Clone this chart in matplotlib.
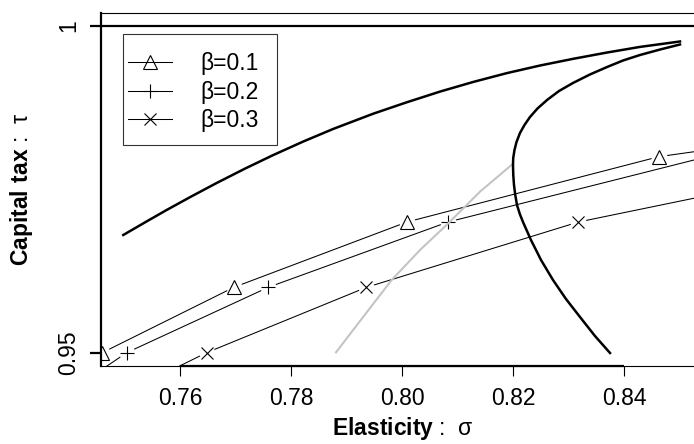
import matplotlib
matplotlib.use('Agg')
import matplotlib.pyplot as plt
from matplotlib.lines import Line2D
from matplotlib.patches import Rectangle

plt.rcParams['font.family'] = ['Liberation Sans', 'DejaVu Sans']
plt.rcParams['mathtext.fontset'] = 'custom'
plt.rcParams['mathtext.rm'] = 'Liberation Sans'
plt.rcParams['mathtext.bf'] = 'Liberation Sans:bold'

# capital tax levels where the beta curves are evaluated
tau_levels = [0.94, 0.95, 0.96, 0.97, 0.98, 0.99]
sigma_b01 = [0.728, 0.7460, 0.7697, 0.8009, 0.8463, 0.930]
sigma_b02 = [0.733, 0.7504, 0.7759, 0.8083, 0.8550, 0.940]
sigma_b03 = [0.741, 0.7648, 0.7936, 0.8318, 0.8890, 0.970]
beta_labels = ['β=0.1', 'β=0.2', 'β=0.3']

# upper thick curve
sigma_a = [0.74978, 0.75369, 0.75760, 0.76211, 0.76661, 0.77171, 0.77681, 0.78222, 0.78762, 0.79483,
           0.80085, 0.80685, 0.81285, 0.81886, 0.82486, 0.83086, 0.83688, 0.84288, 0.85009]
tau_a = [0.96801, 0.96994, 0.97184, 0.97394, 0.97597, 0.97817, 0.98025, 0.98232, 0.98425, 0.98658,
         0.98832, 0.98996, 0.99144, 0.99278, 0.99395, 0.99498, 0.99593, 0.99680, 0.99763]

# backward bending thick curve
sigma_b = [0.85009, 0.84649, 0.84288, 0.83982, 0.83694, 0.83387, 0.83081, 0.82829, 0.82613, 0.82441,
           0.82306, 0.82207, 0.82126, 0.82063, 0.82027, 0.82004, 0.82000, 0.82005, 0.82018, 0.82041,
           0.82072, 0.82123, 0.82180, 0.82252, 0.82324, 0.82505, 0.82721, 0.82955, 0.83207, 0.83477,
           0.83748]
tau_b = [0.99717, 0.99640, 0.99556, 0.99472, 0.99372, 0.99258, 0.99128, 0.99005, 0.98867, 0.98737,
         0.98607, 0.98485, 0.98362, 0.98224, 0.98102, 0.97979, 0.97872, 0.97719, 0.97566, 0.97413,
         0.97260, 0.97122, 0.97000, 0.96862, 0.96724, 0.96418, 0.96112, 0.95821, 0.95546, 0.95255,
         0.94995]

# grey curve
sigma_g = [0.78811, 0.79303, 0.79814, 0.80324, 0.80834, 0.81405, 0.81995]
tau_g = [0.95005, 0.95550, 0.96112, 0.96571, 0.96980, 0.97464, 0.97888]

W, H = 694, 444
fig = plt.figure(figsize=(W / 100, H / 100), dpi=100)
ax = fig.add_axes([101 / W, (H - 366) / H, (700 - 101) / W, (366 - 13) / H])
ax.set_xlim(0.745766, 0.853694)
ax.set_ylim(0.947957, 1.00199)

markers = [dict(marker='^', ms=10), dict(marker='+', ms=9.5), dict(marker='x', ms=9)]
for s, m in zip([sigma_b01, sigma_b02, sigma_b03], markers):
    ax.plot(s, tau_levels, color='black', lw=0.75, zorder=2)
    ax.plot(s, tau_levels, 'o', ms=11.5, mfc='white', mec='none', zorder=2.1)
    ax.plot(s, tau_levels, linestyle='none', color='black', mfc='none', mew=0.8,
            zorder=2.2, **m)

ax.plot(sigma_g, tau_g, color='#c4c4c4', lw=1.5, zorder=3)
ax.plot(sigma_a, tau_a, color='black', lw=1.8, zorder=3)
ax.plot(sigma_b, tau_b, color='black', lw=1.8, zorder=3)
ax.axhline(1.0, color='black', lw=1.6, zorder=3)

# frame
ax.spines['right'].set_visible(False)
ax.spines['top'].set_linewidth(0.8)
ax.spines['bottom'].set_linewidth(0.8)
ax.spines['left'].set_linewidth(1.6)
ax.plot([0.76, 0.84], [0.947957, 0.947957], color='black', lw=1.6, clip_on=False,
        solid_capstyle='butt', zorder=4)

ax.set_xticks([0.76, 0.78, 0.80, 0.82, 0.84])
ax.set_xticklabels(['0.76', '0.78', '0.80', '0.82', '0.84'])
ax.set_yticks([0.95, 1.0])
ax.set_yticklabels(['0.95', '1'], rotation=90, va='center')
ax.tick_params(axis='x', direction='out', length=7.2, width=0.8, pad=8, labelsize=16.5)
ax.tick_params(axis='y', direction='out', length=8, width=1.6, pad=7, labelsize=16.5)

ax.set_xlabel(r'$\mathbf{Elasticity}$ :  σ', fontsize=16.5)
ax.xaxis.set_label_coords(0.504, -0.176)
ax.xaxis.label.set_va('center')
ax.set_ylabel(r'$\mathbf{Capital\ tax}$ :  τ', fontsize=16.5)
ax.yaxis.set_label_coords(-0.132, 0.499)
ax.yaxis.label.set_va('center')

# legend
handles = [Line2D([], [], color='black', lw=0.75, mfc='none', mew=0.8, **m) for m in markers]
ax.add_patch(Rectangle((22 / 599, 1 - 132 / 353), 154 / 599, 111 / 353, transform=ax.transAxes,
                       fill=False, edgecolor='#333333', lw=0.8, zorder=5))
ax.legend(handles, beta_labels, loc='upper left', bbox_to_anchor=(27 / 599, 1 - 39 / 353),
          frameon=False, fontsize=16.5, borderpad=0, borderaxespad=0, handlelength=1.9,
          handletextpad=1.25, labelspacing=0.25)

fig.savefig('out.png', dpi=100)
